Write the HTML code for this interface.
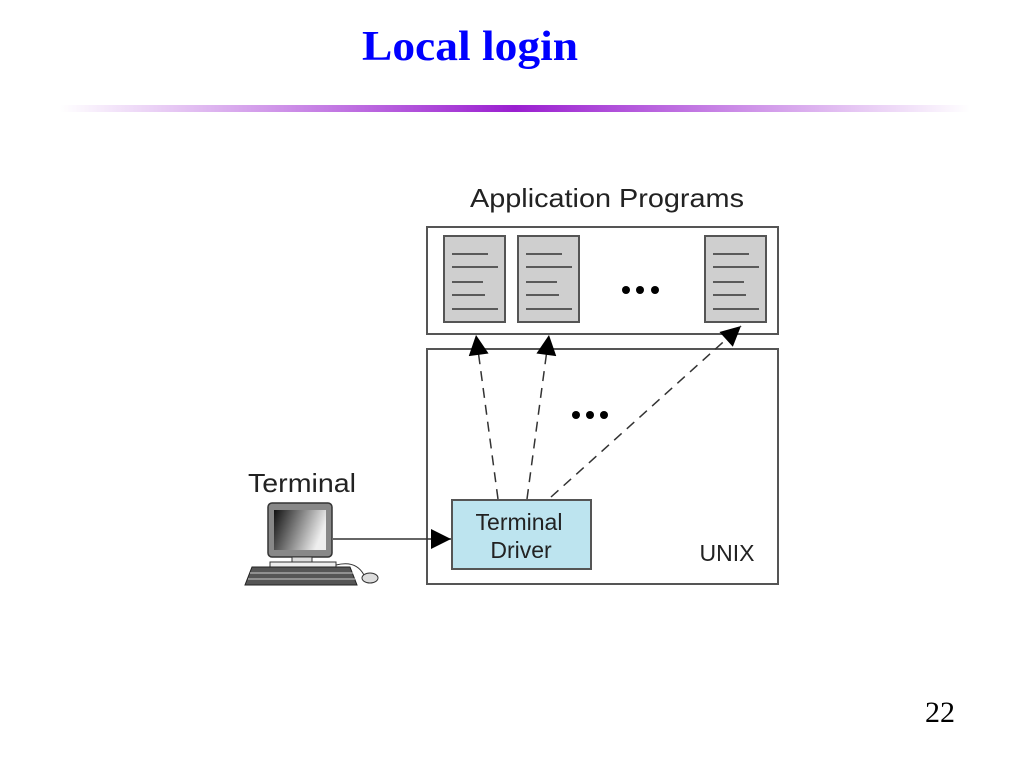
<!DOCTYPE html>
<html><head><meta charset="utf-8"><style>body{margin:0;background:#fff}svg{display:block}</style></head>
<body>
<svg width="1024" height="768" viewBox="0 0 1024 768" xmlns="http://www.w3.org/2000/svg">
<defs>
<linearGradient id="hl" x1="0" x2="1"><stop offset="0" stop-color="#fff"/><stop offset="0.5" stop-color="#9a1fd0"/><stop offset="1" stop-color="#fff"/></linearGradient>
<linearGradient id="scr" x1="0" y1="0" x2="1" y2="0.3"><stop offset="0" stop-color="#111"/><stop offset="1" stop-color="#eee"/></linearGradient>
<marker id="ab" viewBox="0 0 10 10" refX="10" refY="5" markerWidth="30" markerHeight="20" markerUnits="userSpaceOnUse" orient="auto"><path d="M0,0 L10,5 L0,10 z" fill="#000"/></marker>
</defs>
<text x="470" y="60" text-anchor="middle" font-family="Liberation Serif, serif" font-weight="bold" font-size="42" fill="#0000ff" textLength="216" lengthAdjust="spacingAndGlyphs">Local login</text>
<rect x="60" y="105" width="910" height="7" fill="url(#hl)"/>
<text x="607" y="207" text-anchor="middle" font-family="Liberation Sans, sans-serif" font-size="26" fill="#222" textLength="274" lengthAdjust="spacingAndGlyphs">Application Programs</text>
<rect x="427" y="227" width="351" height="107" fill="#fff" stroke="#555" stroke-width="2"/>
<g fill="#cfcfcf" stroke="#555" stroke-width="2">
<rect x="444" y="236" width="61" height="86"/><rect x="518" y="236" width="61" height="86"/><rect x="705" y="236" width="61" height="86"/>
</g>
<g stroke="#333" stroke-width="1.5">
<path d="M452,254h36M452,267h46M452,282h31M452,295h33M452,309h46"/>
<path d="M526,254h36M526,267h46M526,282h31M526,295h33M526,309h46"/>
<path d="M713,254h36M713,267h46M713,282h31M713,295h33M713,309h46"/>
</g>
<g fill="#000"><circle cx="626" cy="290" r="4"/><circle cx="640" cy="290" r="4"/><circle cx="655" cy="290" r="4"/>
<circle cx="576" cy="415" r="4"/><circle cx="590" cy="415" r="4"/><circle cx="604" cy="415" r="4"/></g>
<rect x="427" y="349" width="351" height="235" fill="none" stroke="#555" stroke-width="2"/>
<rect x="452" y="500" width="139" height="69" fill="#bde4ef" stroke="#555" stroke-width="2"/>
<text x="519" y="530" text-anchor="middle" font-family="Liberation Sans, sans-serif" font-size="23" fill="#222">Terminal</text>
<text x="521" y="558" text-anchor="middle" font-family="Liberation Sans, sans-serif" font-size="23" fill="#222">Driver</text>
<text x="727" y="561" text-anchor="middle" font-family="Liberation Sans, sans-serif" font-size="23" fill="#222">UNIX</text>
<g stroke="#333" stroke-width="1.5" stroke-dasharray="10,7" fill="none">
<line x1="498" y1="499" x2="476" y2="335" marker-end="url(#ab)"/>
<line x1="527" y1="499" x2="549" y2="335" marker-end="url(#ab)"/>
<line x1="551" y1="497" x2="741" y2="326" marker-end="url(#ab)"/>
</g>
<line x1="333" y1="539" x2="451" y2="539" stroke="#333" stroke-width="1.5" marker-end="url(#ab)"/>
<text x="302" y="492" text-anchor="middle" font-family="Liberation Sans, sans-serif" font-size="26" fill="#222" textLength="108" lengthAdjust="spacingAndGlyphs">Terminal</text>
<rect x="268" y="503" width="64" height="54" rx="4" fill="#888" stroke="#333" stroke-width="1.5"/>
<rect x="274" y="510" width="52" height="40" fill="url(#scr)"/>
<rect x="292" y="557" width="20" height="6" fill="#ddd" stroke="#333"/>
<rect x="270" y="562" width="66" height="5" fill="#eee" stroke="#333"/>
<path d="M252,567 H350 L357,585 H245 Z" fill="#555" stroke="#222"/>
<path d="M250,573h103M248,579h107" stroke="#ccc" stroke-width="1"/>
<path d="M336,565 q20,-5 28,10" fill="none" stroke="#333"/>
<ellipse cx="370" cy="578" rx="8" ry="5" fill="#ddd" stroke="#333"/>
<text x="940" y="722" text-anchor="middle" font-family="Liberation Serif, serif" font-size="30" fill="#000">22</text>
</svg>
</body></html>
